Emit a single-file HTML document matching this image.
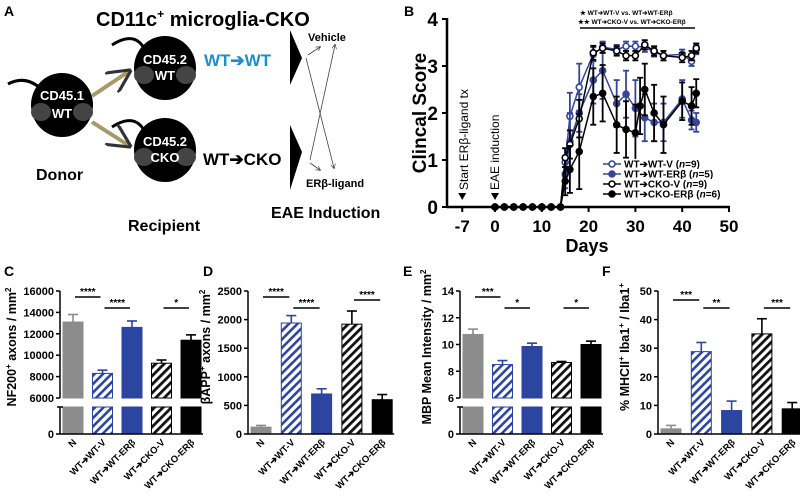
<!DOCTYPE html>
<html><head><meta charset="utf-8">
<style>
body{margin:0;background:#fff;width:800px;height:498px;overflow:hidden}
svg{display:block;font-family:"Liberation Sans",Arial,sans-serif;font-weight:bold}
</style></head>
<body>
<svg id="fig" width="800" height="498" viewBox="0 0 800 498">
<defs>
<pattern id="hatchBlue" patternUnits="userSpaceOnUse" width="6" height="6" patternTransform="rotate(45)"><rect width="6" height="6" fill="#fff"/><rect width="2.6" height="6" fill="#2b45a0"/></pattern>
<pattern id="hatchBlack" patternUnits="userSpaceOnUse" width="6" height="6" patternTransform="rotate(45)"><rect width="6" height="6" fill="#fff"/><rect width="2.8" height="6" fill="#111"/></pattern>
<marker id="ah" markerWidth="6" markerHeight="6" refX="5" refY="3" orient="auto"><path d="M0,0 L6,3 L0,6" fill="none" stroke="#333" stroke-width="0.8"/></marker>
</defs>

<!-- Panel A -->
<g>
<text x="4" y="16" font-size="14">A</text>
<text x="96" y="26" font-size="20">CD11c<tspan font-size="12" dy="-8">+</tspan><tspan dy="8"> microglia-CKO</tspan></text>
<g>
<path d="M40,88 Q25,75 8,84" stroke="#000" stroke-width="3" fill="none"/>
<ellipse cx="62" cy="105" rx="31" ry="32" fill="#000"/>
<ellipse cx="41" cy="112" rx="10" ry="9" fill="#444"/><ellipse cx="83" cy="112" rx="10" ry="9" fill="#444"/>
<text x="62" y="100" font-size="13" fill="#fff" text-anchor="middle">CD45.1</text>
<text x="62" y="118" font-size="13" fill="#fff" text-anchor="middle">WT</text>
</g>
<g>
<path d="M145,50 Q135,30 112,45" stroke="#000" stroke-width="3" fill="none"/>
<ellipse cx="165" cy="68" rx="31" ry="32" fill="#000"/>
<ellipse cx="144" cy="75" rx="10" ry="9" fill="#444"/><ellipse cx="186" cy="75" rx="10" ry="9" fill="#444"/>
<text x="165" y="64" font-size="13" fill="#fff" text-anchor="middle">CD45.2</text>
<text x="165" y="80" font-size="13" fill="#fff" text-anchor="middle">WT</text>
</g>
<g>
<path d="M145,132 Q135,112 112,127" stroke="#000" stroke-width="3" fill="none"/>
<ellipse cx="165" cy="150" rx="31" ry="32" fill="#000"/>
<ellipse cx="144" cy="157" rx="10" ry="9" fill="#444"/><ellipse cx="186" cy="157" rx="10" ry="9" fill="#444"/>
<text x="165" y="146" font-size="13" fill="#fff" text-anchor="middle">CD45.2</text>
<text x="165" y="162" font-size="13" fill="#fff" text-anchor="middle">CKO</text>
</g>
<line x1="92" y1="96" x2="128" y2="72" stroke="#a69a6a" stroke-width="4" marker-end="url(#ah)"/>
<line x1="92" y1="122" x2="128" y2="145" stroke="#a69a6a" stroke-width="4" marker-end="url(#ah)"/>
<text x="204" y="66" font-size="17" fill="#1a8fd0">WT➔WT</text>
<text x="203" y="165" font-size="17" fill="#000">WT➔CKO</text>
<path d="M290,30 L302,58 L290,85 Z" fill="#000"/>
<path d="M290,125 L302,152 L290,190 Z" fill="#000"/>
<text x="308" y="41" font-size="11">Vehicle</text>
<text x="306" y="187" font-size="11">ERβ-ligand</text>
<g stroke="#444" stroke-width="0.8" fill="none" marker-end="url(#ah)">
<line x1="308" y1="55" x2="320" y2="47"/><line x1="306" y1="58" x2="334" y2="168"/>
<line x1="310" y1="160" x2="335" y2="45"/><line x1="310" y1="163" x2="320" y2="170"/>
</g>
<text x="36" y="180" font-size="16">Donor</text>
<text x="128" y="231" font-size="16">Recipient</text>
<text x="271" y="218" font-size="16">EAE Induction</text>
</g>

<!-- Panel B -->
<g id="panelB">
<text x="404" y="16" font-size="14">B</text>
</g>

<g id="bars"></g>
</svg>

<script>
// ===== Panel B data =====
const daysA = [0,2,4,6,8,10,12,14,15,16,18,21,23,26,28,30,32,34,36,40,42,43];
const daysB = [0,2,4,6,8,10,12,14,15,16,18,21,23,26,28,30,31,32,34,36,40,42,43];
const wtV =      [0,0,0,0,0,0,0,0,0.95,1.93,2.55,3.25,3.40,3.35,3.42,3.42,3.40,3.30,3.22,3.25,3.10,3.35];
const wtVerr =   [0,0,0,0,0,0,0,0,0.3,0.5,0.5,0.15,0.12,0.1,0.1,0.1,0.1,0.1,0.1,0.1,0.1,0.1];
const wtE =      [0,0,0,0,0,0,0,0,0.70,1.40,2.00,2.70,2.90,2.20,2.40,2.10,1.90,1.80,1.80,2.30,1.85,1.80];
const wtEerr =   [0,0,0,0,0,0,0,0,0.3,0.6,0.4,0.5,0.6,0.5,0.5,0.6,0.5,0.4,0.4,0.4,0.2,0.2];
const ckoV =     [0,0,0,0,0,0,0,0,1.05,1.33,1.88,3.28,3.38,3.32,3.22,3.22,3.45,3.32,3.22,3.18,3.22,3.38];
const ckoVerr =  [0,0,0,0,0,0,0,0,0.2,0.3,0.4,0.15,0.1,0.1,0.1,0.1,0.1,0.1,0.1,0.1,0.1,0.1];
const ckoE =     [0,0,0,0,0,0,0,0,0.55,0.80,1.18,2.35,2.42,1.75,1.65,1.58,2.15,2.50,2.00,1.75,2.25,2.15,2.42];
const ckoEerr =  [0,0,0,0,0,0,0,0,0.3,0.5,0.8,0.6,0.6,0.6,0.6,0.6,0.6,0.55,0.6,0.6,0.4,0.4,0.3];
const bXTicks = [-7,0,10,20,30,40,50];
const bYTicks = [0,1,2,3,4];

const NS="http://www.w3.org/2000/svg";
function el(tag, attrs, parent, txt){const e=document.createElementNS(NS,tag);for(const k in attrs)e.setAttribute(k,attrs[k]);if(txt!==undefined)e.textContent=txt;parent.appendChild(e);return e;}

const B = document.getElementById('panelB');
const bx = d => 495 + d*4.68;
const by = v => 207 - v*47;
let ax = el('line',{x1:447,y1:by(0),x2:730,y2:by(0),stroke:'#000','stroke-width':2.5},B);


let ay = el('line',{x1:447,y1:by(4)-1,x2:447,y2:by(0)+1,stroke:'#000','stroke-width':2.5},B);


bXTicks.forEach(t=>{
  el('line',{x1:bx(t),y1:by(0),x2:bx(t),y2:by(0)+5,stroke:'#000','stroke-width':2},B);
  const tx=el('text',{x:bx(t),y:232,'font-size':17,'text-anchor':'middle'},B,String(t));
  
  
});
bYTicks.forEach(t=>{
  el('line',{x1:442,y1:by(t),x2:447,y2:by(t),stroke:'#000','stroke-width':2},B);
  const tx=el('text',{x:438,y:by(t)+7,'font-size':19,'text-anchor':'end'},B,String(t));
  
  
});
let xt=el('text',{x:587,y:252,'font-size':18,'text-anchor':'middle'},B,'Days');


let yt=el('text',{x:0,y:0,'font-size':19,'text-anchor':'middle',transform:'translate(426,113) rotate(-90)'},B,'Clincal Score');


let a1=el('text',{x:0,y:0,'font-size':12,'font-weight':'normal',transform:'translate(468,190) rotate(-90)'},B,'Start ERβ-ligand tx');


let a2=el('text',{x:0,y:0,'font-size':12,'font-weight':'normal',transform:'translate(499,190) rotate(-90)'},B,'EAE induction');


el('path',{d:`M${bx(-7)-4},193 L${bx(-7)+4},193 L${bx(-7)},200 Z`,fill:'#000'},B);
el('path',{d:`M${bx(0)-4},193 L${bx(0)+4},193 L${bx(0)},200 Z`,fill:'#000'},B);
let s1=el('text',{x:580,y:15,'font-size':6.5},B,'★  WT➔WT-V vs. WT➔WT-ERβ');


let s2=el('text',{x:578,y:24,'font-size':6.5},B,'★★ WT➔CKO-V vs. WT➔CKO-ERβ');


el('line',{x1:580,y1:28,x2:695,y2:28,stroke:'#000','stroke-width':1.5},B);

const blue='#34469a';
const series=[
 {name:'wt-v',days:daysA,v:wtV,e:wtVerr,c:blue,fill:'#fff'},
 {name:'wt-erb',days:daysA,v:wtE,e:wtEerr,c:blue,fill:blue},
 {name:'cko-v',days:daysA,v:ckoV,e:ckoVerr,c:'#000',fill:'#fff'},
 {name:'cko-erb',days:daysB,v:ckoE,e:ckoEerr,c:'#000',fill:'#000'}
];
series.forEach(s=>{
  const g=el('g',{},B);
  
  
  s.days.forEach((d,i)=>{ if(s.e[i]>0){
    el('line',{x1:bx(d),y1:by(s.v[i]-s.e[i]),x2:bx(d),y2:by(s.v[i]+s.e[i]),stroke:s.c,'stroke-width':1.8},g);
    [s.v[i]-s.e[i],s.v[i]+s.e[i]].forEach(v=>el('line',{x1:bx(d)-3,y1:by(v),x2:bx(d)+3,y2:by(v),stroke:s.c,'stroke-width':1.8},g));
  }});
  el('polyline',{points:s.days.map((d,i)=>bx(d)+','+by(s.v[i])).join(' '),fill:'none',stroke:s.c,'stroke-width':1.5},g);
  s.days.forEach((d,i)=>{
    const p=el('circle',{cx:bx(d),cy:by(s.v[i]),r:3,fill:(s.v[i]===0?'#000':s.fill),stroke:(s.v[i]===0?'#000':s.c),'stroke-width':1.6},g);
    
    
  });
});
const legLabels=['WT➔WT-V (','WT➔WT-ERβ (','WT➔CKO-V (','WT➔CKO-ERβ ('];
const legN=['9','5','9','6'];
series.forEach((s,i)=>{
  const y=164+i*10;
  const g=el('g',{},B);
  
  
  el('rect',{x:602,y:y-5,width:120,height:10,fill:'#fff'},g);
  el('line',{x1:603,y1:y,x2:621,y2:y,stroke:s.c,'stroke-width':1.5},g);
  el('circle',{cx:612,cy:y,r:3,fill:s.fill,stroke:s.c,'stroke-width':1.6},g);
  const t=el('text',{x:624,y:y+3.5,'font-size':10},g,legLabels[i]);
  el('tspan',{'font-style':'italic'},t,'n');
  el('tspan',{},t,'='+legN[i]+')');
});

// ===== Bar panels data =====
const barCats=['N','WT➔WT-V','WT➔WT-ERβ','WT➔CKO-V','WT➔CKO-ERβ'];
const cVals=[13100,8300,12600,9250,11400];
const cErr=[700,300,600,300,500];
const dVals=[120,1940,700,1920,600];
const dErr=[30,130,90,230,90];
const eVals=[10.75,8.5,9.85,8.65,10.0];
const eErr=[0.4,0.3,0.25,0.08,0.25];
const fVals=[1.8,28.8,8.2,35,8.8];
const fErr=[1.2,3.2,3.3,5.3,2.2];
const cTicks=[6000,8000,10000,12000,14000,16000];
const dTicks=[0,500,1000,1500,2000,2500];
const eTicks=[6,8,10,12,14];
const fTicks=[0,10,20,30,40,50];

const fills=['#8c8c8c','url(#hatchBlue)','#2b45a0','url(#hatchBlack)','#000'];
const strokes=['#8c8c8c','#2b45a0','#2b45a0','#000','#000'];
const errCol=['#8c8c8c','#2b45a0','#2b45a0','#000','#000'];
const G=document.getElementById('bars');

function panel(o){
  const g=el('g',{},G);
  
  
  const lt=el('text',{x:o.letterX,y:276,'font-size':14},g,o.letter);
  
  
  const top=291, base=434;
  let yv;
  if(o.broken){
    const lo=o.ticks[0],hi=o.ticks[o.ticks.length-1];
    yv=v=>398-(v-lo)/(hi-lo)*(398-top);
  } else {
    const hi=o.ticks[o.ticks.length-1];
    yv=v=>base-v/hi*(base-top);
  }
  o.vals.forEach((v,i)=>{
    const x=o.axisX+3+i*o.step, w=20;
    const bar=el('rect',{x:x,y:yv(v),width:w,height:(o.broken?398-yv(v):base-yv(v)),fill:fills[i],stroke:strokes[i],'stroke-width':1},g);
    
    
    if(o.broken){
      const lb=el('rect',{x:x,y:407,width:w,height:base-407,fill:fills[i],stroke:strokes[i],'stroke-width':1},g);
      
      
    }
    const cx=x+w/2, ye=yv(v+o.err[i]);
    el('line',{x1:cx,y1:yv(v),x2:cx,y2:ye,stroke:errCol[i],'stroke-width':1.6},g);
    el('line',{x1:cx-5,y1:ye,x2:cx+5,y2:ye,stroke:errCol[i],'stroke-width':1.6},g);
    const lab=el('text',{x:0,y:0,'font-size':9.5,'text-anchor':'end',transform:`translate(${cx+4},${base+9}) rotate(-45)`},g,barCats[i]);
    
    
  });
  if(o.broken){
    el('line',{x1:o.axisX,y1:top,x2:o.axisX,y2:398,stroke:'#000','stroke-width':1.5},g);
    el('line',{x1:o.axisX,y1:407,x2:o.axisX,y2:base,stroke:'#000','stroke-width':1.5},g);
    el('line',{x1:o.axisX-3,y1:407,x2:o.axisX+3,y2:407,stroke:'#000','stroke-width':1.5},g);
    el('line',{x1:o.axisX-4,y1:base,x2:o.axisX,y2:base,stroke:'#000','stroke-width':1.5},g);
    el('text',{x:o.axisX-6,y:base+4,'font-size':11,'text-anchor':'end'},g,'0');
  } else {
    el('line',{x1:o.axisX,y1:top,x2:o.axisX,y2:base,stroke:'#000','stroke-width':1.5},g);
  }
  el('line',{x1:o.axisX,y1:base,x2:o.axisX+3+4*o.step+22,y2:base,stroke:'#000','stroke-width':1.5},g);
  o.ticks.forEach(t=>{
    el('line',{x1:o.axisX-4,y1:yv(t),x2:o.axisX,y2:yv(t),stroke:'#000','stroke-width':1.5},g);
    const tl=el('text',{x:o.axisX-6,y:yv(t)+4,'font-size':11,'text-anchor':'end'},g,String(t));
    
    
  });
  const yl=el('text',{x:0,y:0,'font-size':12.5,'text-anchor':'middle',transform:`translate(${o.axisX-o.titleOff},347) rotate(-90)`},g);
  
  
  o.title.forEach(p=>{ el('tspan',p[1]?{'font-size':8,dy:-5}:{dy:(p[2]||0)},yl,p[0]); });
  o.sig.forEach(s=>{
    const x1=o.axisX+3+s[0]*o.step+10, x2=o.axisX+3+s[1]*o.step+10;
    el('line',{x1:x1+2,y1:s[3],x2:x2-2,y2:s[3],stroke:'#000','stroke-width':1.5},g);
    const st=el('text',{x:(x1+x2)/2,y:s[3]-2,'font-size':10,'text-anchor':'middle'},g,s[2]);
    
    
  });
}
panel({name:'panel-c-nf200-chart',letter:'C',letterX:4,axisX:60,step:29.5,broken:true,vals:cVals,err:cErr,ticks:cTicks,titleOff:44,
  title:[['NF200'],['+',1],[' axons / mm',0,5],['2',1]],sig:[[0,1,'****',297],[1,2,'****',308],[3,4,'*',308]]});
panel({name:'panel-d-bapp-chart',letter:'D',letterX:203,axisX:248,step:30.3,broken:false,vals:dVals,err:dErr,ticks:dTicks,titleOff:38,
  title:[['βAPP'],['+',1],[' axons / mm',0,5],['2',1]],sig:[[0,1,'****',297],[1,2,'****',308],[3,4,'****',300]]});
panel({name:'panel-e-mbp-chart',letter:'E',letterX:403,axisX:460,step:29.5,broken:true,vals:eVals,err:eErr,ticks:eTicks,titleOff:29,
  title:[['MBP Mean Intensity / mm'],['2',1]],sig:[[0,1,'***',297],[1,2,'*',308],[3,4,'*',308]]});
panel({name:'panel-f-mhcii-chart',letter:'F',letterX:602,axisX:658,step:30.3,broken:false,vals:fVals,err:fErr,ticks:fTicks,titleOff:29,
  title:[['% MHCII'],['+',1],[' Iba1',0,5],['+',1],[' / Iba1',0,5],['+',1]],sig:[[0,1,'***',300],[1,2,'**',308],[3,4,'***',308]]});
</script>
</body></html>
